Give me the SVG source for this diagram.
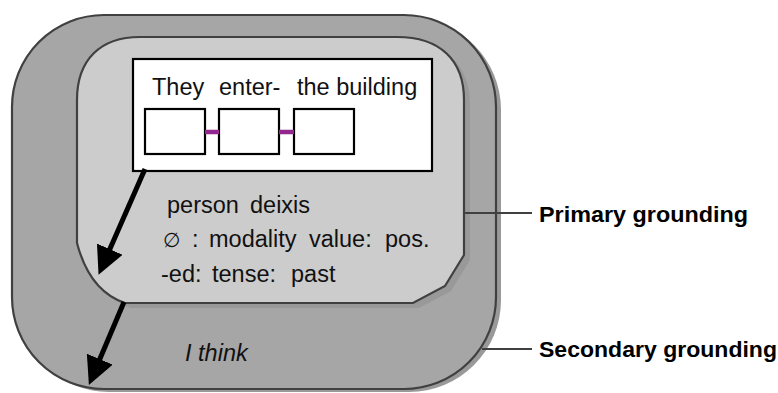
<svg xmlns="http://www.w3.org/2000/svg" width="778" height="393" viewBox="0 0 778 393">
<style>
.t{font-family:"Liberation Sans",Arial,"DejaVu Sans",sans-serif;font-size:23.5px;fill:#111}
.b{font-family:"Liberation Sans",Arial,sans-serif;font-size:22px;font-weight:bold;fill:#000}
.edge{stroke:#404040;stroke-width:2.2}
.sh{fill:#999999}
.box{fill:#fff;stroke:#000;stroke-width:2.2}
.link{stroke:#93278F;stroke-width:4.5}
.arr{stroke:#000;stroke-width:5;fill:none;marker-end:url(#ah)}
.lead{stroke:#404040;stroke-width:2}
</style>
<defs>
<marker id="ah" markerUnits="userSpaceOnUse" markerWidth="30" markerHeight="30" refX="2" refY="14" orient="auto">
<path d="M0,0 L28,14 L0,28 Z" fill="#000"/>
</marker>
</defs>
<rect width="778" height="393" fill="#fff"/>
<g id="secondary">
<rect class="sh" x="17" y="18" width="484" height="374" rx="92" ry="92"/>
<rect class="edge" x="12" y="15" width="484" height="374" rx="92" ry="92" fill="#A6A6A6"/>
<text class="t" x="185" y="361" font-style="italic">I think</text>
</g>
<g id="primary">
<path class="sh" transform="translate(6,5)" d="M140,37 L397,37 C440,37 464,60 464,100 L464,255 L445,286 L413,303 L125,303 C110,298 88,285 77,243 L77,100 C77,60 100,37 140,37 Z"/>
<path class="edge" fill="#CCCCCC" d="M140,37 L397,37 C440,37 464,60 464,100 L464,255 L445,286 L413,303 L125,303 C110,298 88,285 77,243 L77,100 C77,60 100,37 140,37 Z"/>
<text class="t" y="213"><tspan x="167">person</tspan><tspan x="250">deixis</tspan></text>
<text class="t" y="247"><tspan x="163" font-family="DejaVu Sans,sans-serif" font-size="20">∅</tspan><tspan x="192">:</tspan><tspan x="209">modality</tspan><tspan x="309">value:</tspan><tspan x="385">pos.</tspan></text>
<text class="t" y="282"><tspan x="161">-ed:</tspan><tspan x="212">tense:</tspan><tspan x="291">past</tspan></text>
</g>
<g id="sentence">
<rect class="box" x="133" y="59" width="299" height="112"/>
<text class="t" y="95"><tspan x="152">They</tspan><tspan x="219">enter-</tspan><tspan x="297">the building</tspan></text>
</g>
<g id="w1"><rect class="box" x="145" y="109" width="60" height="45"/></g>
<g id="w2"><rect class="box" x="219" y="109" width="60" height="45"/></g>
<g id="w3"><rect class="box" x="294" y="109" width="60" height="45"/></g>
<g id="label-primary"><text class="b" x="539" y="222" textLength="209" lengthAdjust="spacingAndGlyphs">Primary grounding</text></g>
<g id="label-secondary"><text class="b" x="539" y="357" textLength="238" lengthAdjust="spacingAndGlyphs">Secondary grounding</text></g>
<g id="connectors">
<line class="link" x1="205" y1="132" x2="219" y2="132"/>
<line class="link" x1="279" y1="132" x2="294" y2="132"/>
<line class="arr" x1="145" y1="169" x2="109" y2="251"/>
<line class="arr" x1="124" y1="302" x2="99" y2="361"/>
<line class="lead" x1="464" y1="213" x2="532" y2="213"/>
<line class="lead" x1="482" y1="349" x2="532" y2="349"/>
</g>
</svg>
